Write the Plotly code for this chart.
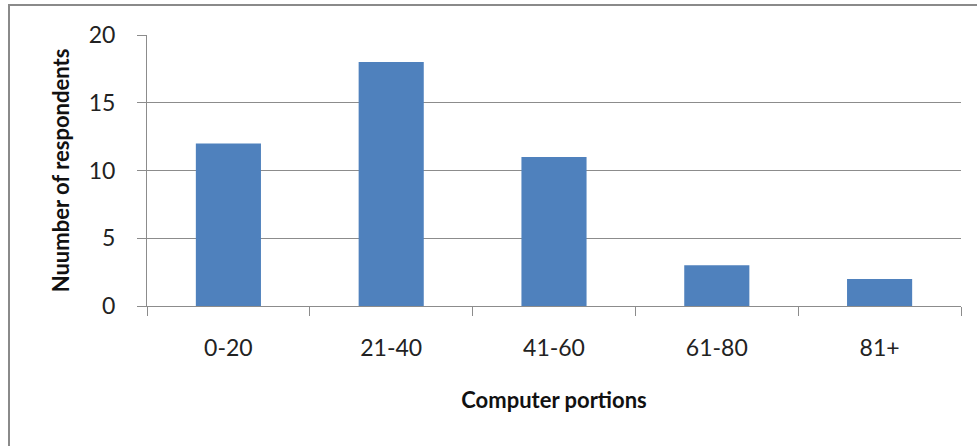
import plotly.graph_objects as go

# Survey responses grouped by computer portions
categories = ["0-20", "21-40", "41-60", "61-80", "81+"]
respondents = [12, 18, 11, 3, 2]
y_ticks = [0, 5, 10, 15, 20]

W, H = 977, 446
L, R, T, B = 147, 16, 35, 140
pw, ph = W - L - R, H - T - B

def px_x(x):
    return (x - L) / pw

def px_y(y):
    return (H - B - y) / ph

axis_grey = "#8c8c8c"
font_family = "Lato, 'Open Sans', sans-serif"

fig = go.Figure(
    go.Bar(
        x=categories,
        y=respondents,
        marker=dict(color="#4f81bd", line=dict(width=0)),
        width=0.4,
    )
)

fig.update_layout(
    width=W,
    height=H,
    margin=dict(l=L, r=R, t=T, b=B),
    paper_bgcolor="white",
    plot_bgcolor="white",
    showlegend=False,
    font=dict(family=font_family, size=23, color="#222222"),
    shapes=[
        dict(
            type="rect",
            xref="paper",
            yref="paper",
            x0=px_x(9),
            x1=px_x(990),
            y0=px_y(460),
            y1=px_y(5),
            line=dict(color="#8a8a8a", width=2),
            fillcolor="rgba(0,0,0,0)",
            layer="below",
        )
    ],
)

fig.update_xaxes(
    type="category",
    tickson="boundaries",
    ticks="outside",
    ticklen=9,
    tickcolor=axis_grey,
    showline=True,
    linecolor=axis_grey,
    linewidth=1,
    showgrid=False,
    ticklabelstandoff=21,
    tickfont=dict(size=23, color="#222222"),
    title=dict(
        text="<b>Computer portions</b>",
        font=dict(size=22, color="#111111"),
        standoff=33,
    ),
)

fig.update_yaxes(
    range=[0, 20],
    tickvals=y_ticks,
    ticks="outside",
    ticklen=9,
    tickcolor=axis_grey,
    showline=True,
    linecolor=axis_grey,
    linewidth=1,
    showgrid=True,
    gridcolor=axis_grey,
    gridwidth=1,
    zeroline=False,
    ticklabelstandoff=17,
    tickfont=dict(size=23, color="#222222"),
    title=dict(
        text="<b>Nuumber of respondents</b>",
        font=dict(size=22, color="#111111"),
        standoff=13,
    ),
)

fig.write_html("out.html")
